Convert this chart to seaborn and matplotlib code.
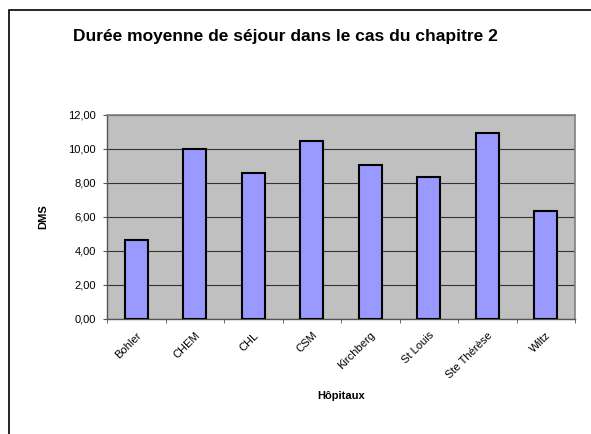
import numpy as np
import pandas as pd
import matplotlib
matplotlib.use("Agg")
import matplotlib.pyplot as plt
import seaborn as sns
from matplotlib.ticker import FuncFormatter, FixedLocator
from matplotlib.patches import Rectangle

# ─── DATA ─────────────────────────────────────────────────
hopitaux = ['Bohler', 'CHEM', 'CHL', 'CSM', 'Kirchberg', 'St Louis', 'Ste Thérèse', 'Wiltz']
dms = [4.65, 10.0, 8.58, 10.47, 9.08, 8.33, 10.96, 6.33]
yticks = [0, 2, 4, 6, 8, 10, 12]

df = pd.DataFrame({'Hôpitaux': hopitaux, 'DMS': dms})

# ─── STYLE ────────────────────────────────────────────────
sns.set_style("white")
plt.rcParams['font.family'] = ['Liberation Sans', 'DejaVu Sans']
plt.rcParams['text.color'] = 'black'
plt.rcParams['axes.labelcolor'] = 'black'
plt.rcParams['xtick.color'] = 'black'
plt.rcParams['ytick.color'] = 'black'

fig = plt.figure(figsize=(5.91, 4.34), dpi=100)
ax = fig.add_axes([107 / 591, 1 - 319 / 434, 468 / 591, 204 / 434])

# outer chart border (Excel chart area)
fig.patches.append(Rectangle((9 / 591, -0.1), 1.2, 1 - 10 / 434 + 0.1,
                             transform=fig.transFigure, fill=False,
                             edgecolor='black', linewidth=1.2))

ax.set_facecolor('#C0C0C0')
sns.barplot(data=df, x='Hôpitaux', y='DMS', color='#9999FF', width=0.4,
            edgecolor='black', linewidth=1.5, saturation=1, ax=ax, zorder=3)

ax.set_ylim(0, 12)
ax.set_xlim(-0.5, len(hopitaux) - 0.5)
ax.set_yticks(yticks)
ax.yaxis.set_major_formatter(FuncFormatter(lambda v, p: f"{v:.2f}".replace('.', ',')))
ax.grid(axis='y', color='#333333', linewidth=0.8, zorder=0)
ax.set_axisbelow(True)

# x ticks between categories
ax.set_xticks(np.arange(len(hopitaux)))
ax.set_xticklabels(hopitaux, rotation=45, ha='right', rotation_mode='anchor', fontsize=8)
ax.xaxis.set_minor_locator(FixedLocator(np.arange(-0.5, len(hopitaux), 1)))
ax.tick_params(axis='x', which='major', length=0, pad=8)
ax.tick_params(axis='x', which='minor', length=3, color='#555555', direction='out', bottom=True)
ax.tick_params(axis='y', length=3, direction='out', left=True, labelsize=8, pad=5, color='#555555')

for s in ['top', 'right']:
    ax.spines[s].set_color('#808080')
    ax.spines[s].set_linewidth(1.2)
for s in ['left', 'bottom']:
    ax.spines[s].set_color('#555555')
    ax.spines[s].set_linewidth(1.0)

ax.set_xlabel('Hôpitaux', fontsize=8, fontweight='bold', labelpad=8)
ax.set_ylabel('DMS', fontsize=8, fontweight='bold', labelpad=14)

fig.text(285 / 591, 1 - 36 / 434, 'Durée moyenne de séjour dans le cas du chapitre 2',
         ha='center', va='center', fontsize=12.5, fontweight='bold')

fig.savefig('out.png', dpi=100)
